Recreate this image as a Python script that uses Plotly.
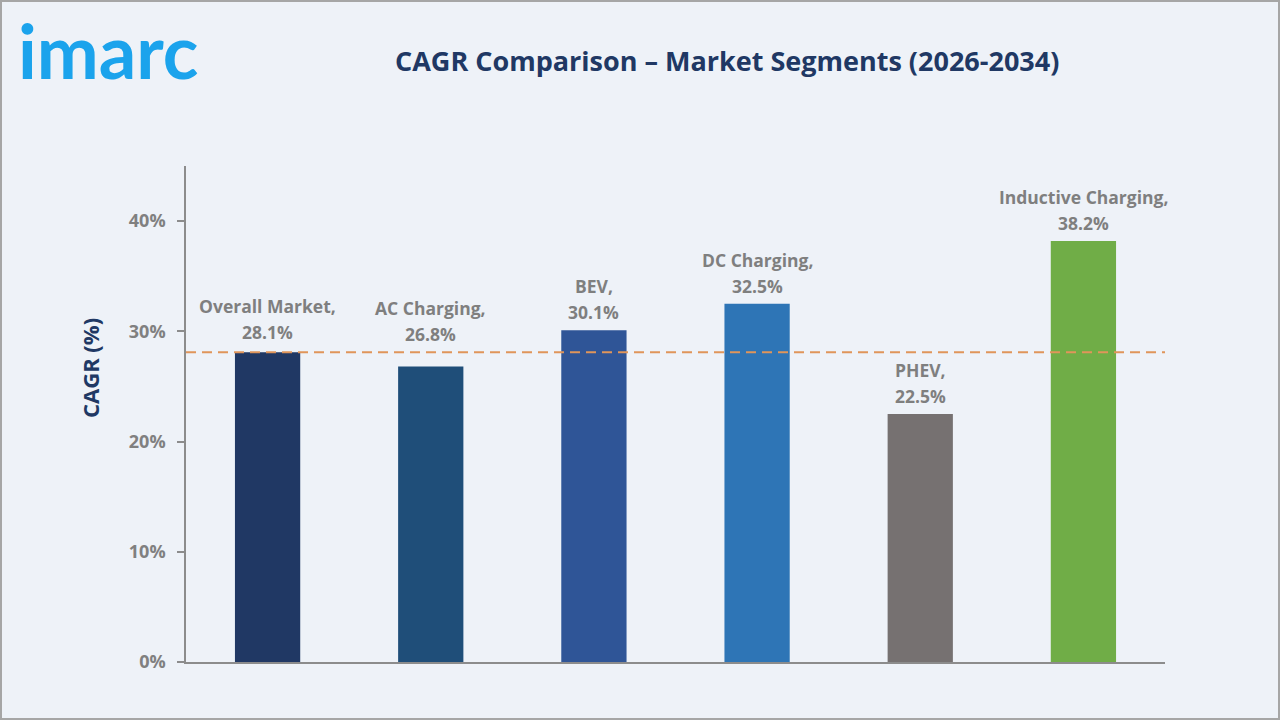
import plotly.graph_objects as go

categories = ["Overall Market", "AC Charging", "BEV", "DC Charging", "PHEV", "Inductive Charging"]
cagr = [28.1, 26.8, 30.1, 32.5, 22.5, 38.2]
bar_colors = ["#203864", "#1F4E79", "#2F5597", "#2E75B6", "#767171", "#70AD47"]
reference_value = 28.1
y_ticks = [0, 10, 20, 30, 40]
y_tick_labels = ["0%", "10%", "20%", "30%", "40%"]

# extra label lift (px) to keep labels clear of the reference line
label_lift = {"AC Charging": 15, "Overall Market": 2}

W, H = 1280, 720
L, R, T, B = 186, 115, 166, 58
pw, ph = W - L - R, H - T - B

font_family = "Open Sans, DejaVu Sans, sans-serif"
label_font = dict(family=font_family, size=17.5, color="#7F7F7F", weight="bold")

fig = go.Figure()
fig.add_trace(go.Bar(
    x=categories,
    y=cagr,
    marker=dict(color=bar_colors, line=dict(width=0)),
    width=0.4,
    hoverinfo="skip",
))

for c, v in zip(categories, cagr):
    lift = label_lift.get(c, 0)
    fig.add_annotation(x=c, y=v, xref="x", yref="y", text=f"{v:.1f}%",
                       showarrow=False, xanchor="center", yanchor="middle",
                       yshift=18 + lift, font=label_font)
    fig.add_annotation(x=c, y=v, xref="x", yref="y", text=f"{c},",
                       showarrow=False, xanchor="center", yanchor="middle",
                       yshift=44 + lift, font=label_font)

fig.add_shape(type="line", xref="paper", yref="y", x0=0, x1=1,
              y0=reference_value, y1=reference_value,
              line=dict(color="#E0955A", width=2, dash="10px,6px"))

# border around the image
fig.add_shape(type="rect", xref="paper", yref="paper",
              x0=-(L - 1) / pw, x1=(pw + R - 1) / pw,
              y0=-(B - 1) / ph, y1=(ph + T - 1) / ph,
              line=dict(color="#A6A6A6", width=2), layer="below")

fig.add_annotation(text="<b>CAGR Comparison – Market Segments (2026-2034)</b>",
                   xref="paper", yref="paper",
                   x=(727 - L) / pw, y=(H - B - 60) / ph,
                   xanchor="center", yanchor="middle", showarrow=False,
                   font=dict(family=font_family, size=27, color="#203864"))

fig.add_annotation(text="imarc", xref="paper", yref="paper",
                   x=(16 - L) / pw, y=(H - B - 50) / ph,
                   xanchor="left", yanchor="middle", showarrow=False,
                   font=dict(family="Lato, Open Sans, sans-serif", size=74, color="#1BA3EC", weight="bold"))

fig.add_annotation(text="<b>CAGR (%)</b>", xref="paper", yref="paper",
                   x=(90 - L) / pw, y=(H - B - 368) / ph,
                   xanchor="center", yanchor="middle", showarrow=False, textangle=-90,
                   font=dict(family=font_family, size=22, color="#203864"))

fig.update_layout(
    width=W, height=H,
    margin=dict(l=L, r=R, t=T, b=B, pad=0),
    paper_bgcolor="#EEF2F8",
    plot_bgcolor="#EEF2F8",
    showlegend=False,
    xaxis=dict(range=[-0.5, 5.5], showticklabels=False, ticks="",
               showgrid=False, zeroline=False, showline=True,
               linecolor="#8C8C8C", linewidth=1.5),
    yaxis=dict(range=[0, 45], tickvals=y_ticks, ticktext=y_tick_labels,
               ticks="outside", ticklen=7, tickcolor="#8C8C8C", tickwidth=1.5,
               ticklabelstandoff=8,
               showgrid=False, zeroline=False, showline=True,
               linecolor="#8C8C8C", linewidth=1.5,
               tickfont=dict(family=font_family, size=18, color="#808080", weight="bold")),
)

fig.write_html("out.html")
